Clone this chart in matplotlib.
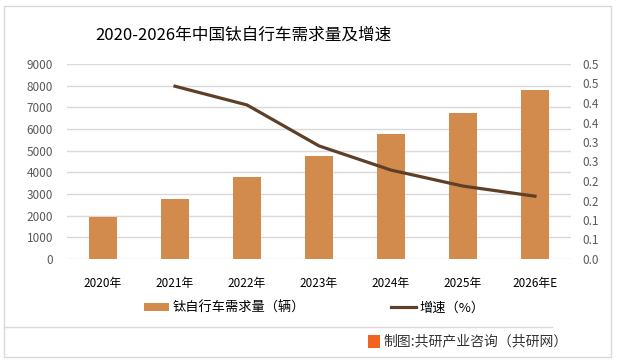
import matplotlib
matplotlib.use('Agg')
import matplotlib.pyplot as plt
from matplotlib.patches import Rectangle, Patch
from matplotlib.lines import Line2D

plt.rcParams['font.family'] = ['Noto Sans CJK SC', 'DejaVu Sans']

# 数据
years = ['2020年', '2021年', '2022年', '2023年', '2024年', '2025年', '2026年E']
demand = [1960, 2780, 3765, 4770, 5790, 6760, 7780]
growth_years = [1, 2, 3, 4, 5, 6]
growth = [0.443, 0.395, 0.29, 0.228, 0.187, 0.161]
left_ticks = [0, 1000, 2000, 3000, 4000, 5000, 6000, 7000, 8000, 9000]
right_ticks = [0, 0.05, 0.1, 0.15, 0.2, 0.25, 0.3, 0.35, 0.4, 0.45, 0.5]
right_labels = ['0.0', '0.1', '0.1', '0.2', '0.2', '0.3', '0.3', '0.4', '0.4', '0.5', '0.5']

bar_color = '#D38B4D'
line_color = '#5E4029'
tick_color = '#595959'

fig = plt.figure(figsize=(6.17, 3.63), dpi=100)
fig.patches.append(Rectangle((4 / 617, 6 / 363), 607 / 617, 351 / 363, transform=fig.transFigure,
                             fill=False, edgecolor='#D9D9D9', linewidth=1))

ax = fig.add_axes([67 / 617, 1 - 259 / 363, 504 / 617, 195 / 363])
x = list(range(len(years)))
ax.bar(x, demand, width=0.39, color=bar_color, zorder=2)
ax.set_xlim(-0.5, len(years) - 0.5)
ax.set_ylim(0, 9000)
ax.set_yticks(left_ticks)
ax.set_xticks(x)
ax.set_xticklabels(years)
ax.grid(axis='y', color='#D9D9D9', linewidth=1, zorder=0)
ax.set_axisbelow(True)
for s in ax.spines.values():
    s.set_visible(False)
ax.tick_params(axis='both', length=0, colors=tick_color, labelsize=8.5)
ax.tick_params(axis='x', pad=13, colors='black')
ax.tick_params(axis='y', pad=10)

ax2 = ax.twinx()
ax2.plot(growth_years, growth, color=line_color, linewidth=2.3, zorder=3)
ax2.set_ylim(0, 0.5)
ax2.set_yticks(right_ticks)
ax2.set_yticklabels(right_labels)
for s in ax2.spines.values():
    s.set_visible(False)
ax2.tick_params(axis='y', length=0, colors=tick_color, labelsize=8.5, pad=8)

fig.text(243 / 617, 1 - 35 / 363, '2020-2026年中国钛自行车需求量及增速', ha='center', va='center',
         fontsize=12, color='black')

handles = [Patch(facecolor=bar_color), Line2D([0], [0], color=line_color, linewidth=2.3)]
fig.legend(handles, ['钛自行车需求量（辆）', '增速（%）'], loc='center left',
           bbox_to_anchor=(137 / 617, 1 - 308 / 363), ncol=2, frameon=False, borderpad=0,
           fontsize=9.5, handlelength=1.9, handleheight=0.6, handletextpad=0.3, columnspacing=6.5)

fig.add_artist(Line2D([4 / 617, 552 / 617], [1 - 327 / 363, 1 - 327 / 363], transform=fig.transFigure,
                      color='#D9D9D9', linewidth=1))
fig.patches.append(Rectangle((368 / 617, 1 - 348 / 363), 12 / 617, 13 / 363, transform=fig.transFigure,
                             facecolor='#F0641E', edgecolor='none'))
fig.text(383 / 617, 1 - 341 / 363, '制图:共研产业咨询（共研网）', ha='left', va='center',
         fontsize=10, color='#333333')

fig.savefig('out.png', dpi=100)
